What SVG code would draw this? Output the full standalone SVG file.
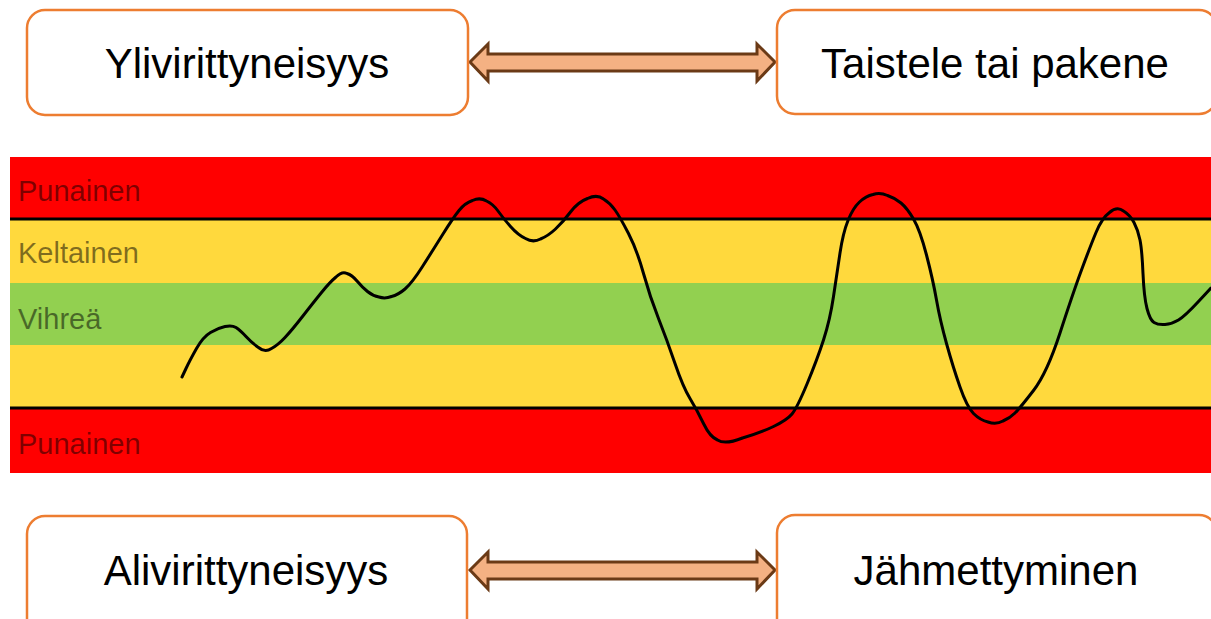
<svg xmlns="http://www.w3.org/2000/svg" width="1211" height="619" viewBox="0 0 1211 619">
<style>
.box{fill:#fff;stroke:#ED7D31;stroke-width:2.5}
.btxt{font-family:"Liberation Sans",Arial,sans-serif;font-size:42px;fill:#000;text-anchor:middle}
.arrow{fill:#F4B183;stroke:#6B3A16;stroke-width:3;stroke-linejoin:miter}
.lbl{font-family:"Liberation Sans",Arial,sans-serif;font-size:29px;fill:#000;fill-opacity:0.5}
.bl{stroke:#000;stroke-width:3}
</style>
<rect width="1211" height="619" fill="#fff"/>
<g id="bands">
<rect x="10" y="157" width="1201" height="62" fill="#FF0000"/>
<rect x="10" y="219" width="1201" height="64" fill="#FFD93D"/>
<rect x="10" y="283" width="1201" height="62" fill="#92D050"/>
<rect x="10" y="345" width="1201" height="63" fill="#FFD93D"/>
<rect x="10" y="408" width="1201" height="65" fill="#FF0000"/>
<line class="bl" x1="10" y1="219" x2="1211" y2="219"/>
<line class="bl" x1="10" y1="408" x2="1211" y2="408"/>
<text class="lbl" x="18" y="201">Punainen</text>
<text class="lbl" x="18" y="263">Keltainen</text>
<text class="lbl" x="18" y="329">Vihreä</text>
<text class="lbl" x="18" y="454">Punainen</text>
</g>
<g id="curve">
<path fill="none" stroke="#000" stroke-width="3" stroke-linecap="round" stroke-linejoin="round" d="M182,377 L186,368.5 Q190,360 196.5,348.5 Q203,337 210.5,332.5 Q218,328 225,326.5 Q232,325 236,327.5 Q240,330 246,336.5 Q252,343 258.5,347.5 Q265,353 271.5,348.5 Q278,345 285,337.5 Q292,330 302.5,316.5 Q313,303 321.5,292.5 Q330,282 336,277 Q342,271 347,273.5 Q352,275 357,281 Q362,287 367.5,291.5 Q373,296 379,297 Q385,299 391.5,296.5 Q398,295 405,289 Q412,283 422.5,266.5 Q433,250 443,234 Q453,218 459,210.5 Q465,203 472.5,200.5 Q480,197 486.5,201 Q493,204 498,211 Q503,218 510.5,226.5 Q518,235 525.5,238.5 Q533,243 540.5,239 Q548,236 555.5,229 Q563,222 570.5,212 Q578,202 587.5,198.5 Q597,194 603.5,199 Q610,203 615,210 Q620,217 628.5,233.5 Q637,250 643.5,273.5 Q650,297 658.5,318.5 Q667,340 675,363.5 Q683,387 690,398.5 Q697,410 703.5,423.5 Q710,437 717.5,440 Q725,445 742.5,438 Q760,433 773.5,426.5 Q787,420 792,414 Q797,408 807,384 Q817,360 823.5,340 Q830,320 833.5,296.5 Q837,273 840,253 Q843,233 848,220.5 Q853,208 859.5,202 Q866,196 873,194.5 Q880,192 887.5,195.5 Q895,198 901,203 Q907,208 913.5,219 Q920,230 926.5,255 Q933,280 936.5,300 Q940,320 946.5,343.5 Q953,367 960,387 Q967,407 973.5,413.5 Q980,420 988,422 Q996,425 1003,421 Q1010,418 1015,413 Q1020,408 1033.5,390.5 Q1047,373 1060,333 Q1073,293 1081.5,270 Q1090,247 1096,232.5 Q1102,218 1109.5,212.5 Q1117,206 1123.5,211 Q1130,215 1134,222.5 Q1138,230 1140,240 Q1142,250 1143,273.5 Q1144,297 1147,308.5 Q1150,320 1154,322.5 Q1158,325 1165,324.5 Q1172,324 1178.5,320 Q1185,316 1198,302 L1211,288"/>
</g>
<g id="connectors">
<path class="arrow" d="M470,62 L488,44 L488,54 L757,54 L757,44 L775,62 L757,81 L757,71 L488,71 L488,81 Z"/>
<path class="arrow" d="M470,570 L488,552 L488,562 L757,562 L757,552 L775,570 L757,589 L757,579 L488,579 L488,589 Z"/>
</g>
<g id="n-ylivirittyneisyys">
<rect class="box" x="27" y="10" width="441" height="105" rx="18"/>
<text class="btxt" x="247" y="78">Ylivirittyneisyys</text>
</g>
<g id="n-taistele">
<rect class="box" x="777" y="10" width="440" height="104" rx="18"/>
<text class="btxt" x="995" y="78">Taistele tai pakene</text>
</g>
<g id="n-alivirittyneisyys">
<rect class="box" x="27" y="516" width="440" height="130" rx="18"/>
<text class="btxt" x="246" y="585">Alivirittyneisyys</text>
</g>
<g id="n-jahmettyminen">
<rect class="box" x="777" y="515" width="440" height="130" rx="18"/>
<text class="btxt" x="996" y="585">Jähmettyminen</text>
</g>
</svg>
